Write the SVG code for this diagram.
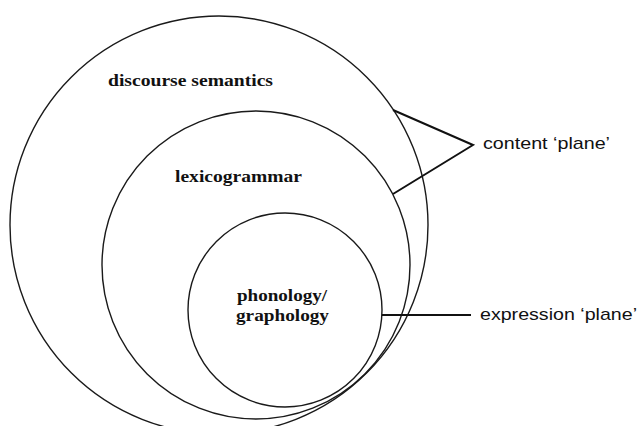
<svg xmlns="http://www.w3.org/2000/svg" width="640" height="426" viewBox="0 0 640 426">
<style>
.ring{fill:none;stroke:#1a1a1a;stroke-width:1.4}
.conn{fill:none;stroke:#111;stroke-width:2;stroke-linejoin:miter}
.lbl{font-family:"Liberation Serif","Times New Roman",serif;font-weight:bold;font-size:17px;fill:#111}
.side{font-family:"Liberation Sans",Arial,sans-serif;font-size:17px;fill:#111}
</style>
<rect width="640" height="426" fill="#fff"/>
<g id="discourse-semantics">
<circle class="ring" cx="219" cy="225" r="209"/>
<text class="lbl" x="108" y="86" textLength="165" lengthAdjust="spacingAndGlyphs">discourse semantics</text>
</g>
<g id="lexicogrammar">
<circle class="ring" cx="256" cy="265" r="154"/>
<text class="lbl" x="175" y="182" textLength="127" lengthAdjust="spacingAndGlyphs">lexicogrammar</text>
</g>
<g id="phonology-graphology">
<circle class="ring" cx="285" cy="310" r="97"/>
<text class="lbl" x="237" y="301" textLength="90" lengthAdjust="spacingAndGlyphs">phonology/</text>
<text class="lbl" x="236" y="321" textLength="93" lengthAdjust="spacingAndGlyphs">graphology</text>
</g>
<g id="content-plane">
<text class="side" x="483" y="149" textLength="127" lengthAdjust="spacingAndGlyphs">content ‘plane’</text>
</g>
<g id="expression-plane">
<text class="side" x="480" y="320" textLength="157" lengthAdjust="spacingAndGlyphs">expression ‘plane’</text>
</g>
<g id="connectors">
<polyline class="conn" points="393,110 473,145 393,194"/>
<line class="conn" x1="382" y1="315" x2="471" y2="315"/>
</g>
</svg>
